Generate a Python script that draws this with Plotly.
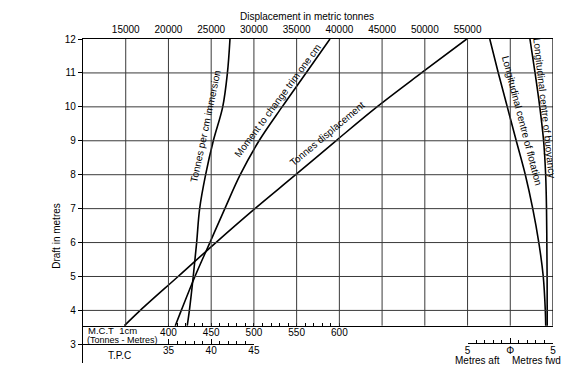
import plotly.graph_objects as go

# ---------------- data ----------------
draft = [3.55, 4, 5, 6, 7, 8, 9, 10, 11, 12]                       # metres
displacement = [14850, 16700, 21130, 25550, 30120, 34890, 39600, 44400, 49600, 54900]  # tonnes
mct = [408, 415, 431, 448.5, 466, 484, 506, 533, 561, 589]           # tonne-metres per cm
tpc = [37.2, 37.45, 37.9, 38.3, 38.65, 39.35, 40.25, 41.35, 41.9, 42.2]  # tonnes per cm
lcb = [4.32, 4.32, 4.31, 4.28, 4.24, 4.14, 3.9, 3.45, 2.9, 2.3]      # metres fwd of midships
lcf = [4.15, 4.1, 3.86, 3.34, 2.63, 1.76, 0.7, -0.35, -1.4, -2.4]    # metres fwd of midships

disp_ticks = [15000, 20000, 25000, 30000, 35000, 40000, 45000, 50000, 55000]
disp_grid = [15000, 20000, 25000, 30000, 35000, 40000, 45000, 50000, 55000, 60000]
draft_ticks = [3, 4, 5, 6, 7, 8, 9, 10, 11, 12]
draft_grid = [4, 5, 6, 7, 8, 9, 10, 11]
mct_ticks = [400, 450, 500, 550, 600]
mct_minor = list(range(400, 601, 10))
tpc_ticks = [35, 40, 45]
tpc_minor = list(range(35, 46))
metre_ticks = [-5, 0, 5]
metre_labels = ["5", "Φ", "5"]
metre_minor = list(range(-5, 6))

# ---------------- scales ----------------
X_RANGE = [10000, 65000]
Y_RANGE = [2.45, 12]
BASE = draft[0]          # draft of the M.C.T base line / bottom of grid
TPC_LINE = 3.0
METRE_LINE = 3.04
# M.C.T: 400 -> 20000 t, 100 t per unit ; TPC: 35 -> 20000 t, 1000 t per unit
mct_range = [400 + (X_RANGE[0] - 20000) / 100, 400 + (X_RANGE[1] - 20000) / 100]
tpc_end_disp = 20000 + (tpc_ticks[-1] - 35) * 1000
tpc_range = [35 + (X_RANGE[0] - 20000) / 1000, tpc_ticks[-1]]
span = X_RANGE[1] - X_RANGE[0]
tpc_domain = [0, (tpc_end_disp - X_RANGE[0]) / span]
metre_domain = [(55000 - X_RANGE[0]) / span, 1]

def ypos(d):
    return (d - Y_RANGE[0]) / (Y_RANGE[1] - Y_RANGE[0])

FONT = "Liberation Sans, Arial, sans-serif"
LINE = dict(color="black", width=1.6)

fig = go.Figure()
fig.add_trace(go.Scatter(x=displacement, y=draft, mode="lines", line=dict(LINE, shape="spline"),
                         xaxis="x", yaxis="y", hoverinfo="skip"))
fig.add_trace(go.Scatter(x=mct, y=draft, mode="lines", line=dict(LINE, shape="spline"),
                         xaxis="x2", yaxis="y", hoverinfo="skip"))
fig.add_trace(go.Scatter(x=tpc, y=draft, mode="lines", line=dict(LINE, shape="spline"),
                         xaxis="x3", yaxis="y", hoverinfo="skip"))
fig.add_trace(go.Scatter(x=lcb, y=draft, mode="lines", line=dict(LINE, shape="spline"),
                         xaxis="x4", yaxis="y", hoverinfo="skip"))
fig.add_trace(go.Scatter(x=lcf, y=draft, mode="lines", line=dict(LINE, shape="spline"),
                         xaxis="x4", yaxis="y", hoverinfo="skip"))

shapes = []
GRID = dict(color="#3a3a3a", width=1)
for gx in disp_grid:
    shapes.append(dict(type="line", xref="x", yref="y", x0=gx, x1=gx, y0=BASE, y1=Y_RANGE[1], line=GRID))
for gy in draft_grid:
    shapes.append(dict(type="line", xref="x", yref="y", x0=X_RANGE[0], x1=X_RANGE[1], y0=gy, y1=gy, line=GRID))
# right border
shapes.append(dict(type="line", xref="x", yref="y", x0=X_RANGE[1], x1=X_RANGE[1], y0=BASE, y1=Y_RANGE[1],
                   line=dict(color="black", width=1.2)))

tickfont = dict(family=FONT, size=10, color="black")
common = dict(showgrid=False, zeroline=False, showline=True, linecolor="black", linewidth=1.2,
              tickfont=tickfont, automargin=False, fixedrange=True)
# the page body adds an 8px offset, so the figure is 8px smaller than the window
layout = dict(
    template="none",
    width=568, height=362,
    margin=dict(l=75, r=23, t=31, b=7, pad=0, autoexpand=False),
    paper_bgcolor="white", plot_bgcolor="rgba(0,0,0,0)",
    showlegend=False,
    font=dict(family=FONT, size=10, color="black"),
    xaxis=dict(range=X_RANGE, side="top", anchor="y", tickvals=disp_ticks,
               ticktext=[str(v) for v in disp_ticks], ticks="", ticklabelstandoff=1, **common),
    xaxis2=dict(range=mct_range, overlaying="x", anchor="free", position=ypos(BASE), side="bottom",
                tickvals=mct_ticks, ticktext=[str(v) for v in mct_ticks], ticks="inside", ticklen=3,
                tickcolor="black", ticklabelstandoff=-3,
                minor=dict(tickmode="array", tickvals=mct_minor, ticks="inside", ticklen=3, tickcolor="black"),
                **common),
    xaxis3=dict(range=tpc_range, domain=tpc_domain, anchor="free", position=ypos(TPC_LINE), side="bottom",
                tickvals=tpc_ticks, ticktext=[str(v) for v in tpc_ticks], ticks="inside", ticklen=5,
                tickcolor="black", ticklabelstandoff=-3,
                minor=dict(tickmode="array", tickvals=tpc_minor, ticks="inside", ticklen=3, tickcolor="black"),
                **common),
    xaxis4=dict(range=[metre_ticks[0], metre_ticks[-1]], domain=metre_domain, anchor="free",
                position=ypos(METRE_LINE), side="bottom",
                tickvals=metre_ticks, ticktext=metre_labels, ticks="inside", ticklen=5, tickcolor="black",
                ticklabelstandoff=-2,
                minor=dict(tickmode="array", tickvals=metre_minor, ticks="inside", ticklen=3, tickcolor="black"),
                **common),
    yaxis=dict(range=Y_RANGE, anchor="x", tickvals=draft_ticks, ticktext=[str(v) for v in draft_ticks],
               ticks="outside", ticklen=4, tickcolor="black", **common),
    shapes=shapes,
)
fig.update_layout(**layout)

ann = []
def A(text, x, y, xref="x", yref="y", angle=0, size=10, xanchor="center", **kw):
    d = dict(text=text, x=x, y=y, xref=xref, yref=yref, showarrow=False, textangle=angle,
             xanchor=xanchor, yanchor="middle", font=dict(family=FONT, size=size, color="black"))
    d.update(kw)
    ann.append(d)

A("Displacement in metric tonnes", 0.4766, 1, xref="paper", yref="paper", yshift=23)
A("Draft in metres", -0.0553, 6.2, xref="paper", angle=-90)
A("Tonnes per cm immersion", 24300, 9.43, angle=-78)
A("Moment to change trim one cm", 32800, 10.18, angle=-53.5)
A("Tonnes displacement", 38600, 9.22, angle=-40)
A("Longitudinal centre of flotation", 61350, 9.59, angle=75.4)
A("Longitudinal centre of buoyancy", 64050, 9.96, angle=83.7)
A("M.C.T\u00a0\u00a01cm", 0.006, 3.40, xref="paper", size=9.5, xanchor="left")
A("(Tonnes - Metres)", 0.004, 3.135, xref="paper", size=9, xanchor="left")
A("T.P.C", 0.0766, 2.68, xref="paper", size=10)
A("Metres aft", 0.839, 2.516, xref="paper", size=10)
A("Metres fwd", 0.964, 2.516, xref="paper", size=10)
fig.update_layout(annotations=ann)

fig.write_html("out.html")
